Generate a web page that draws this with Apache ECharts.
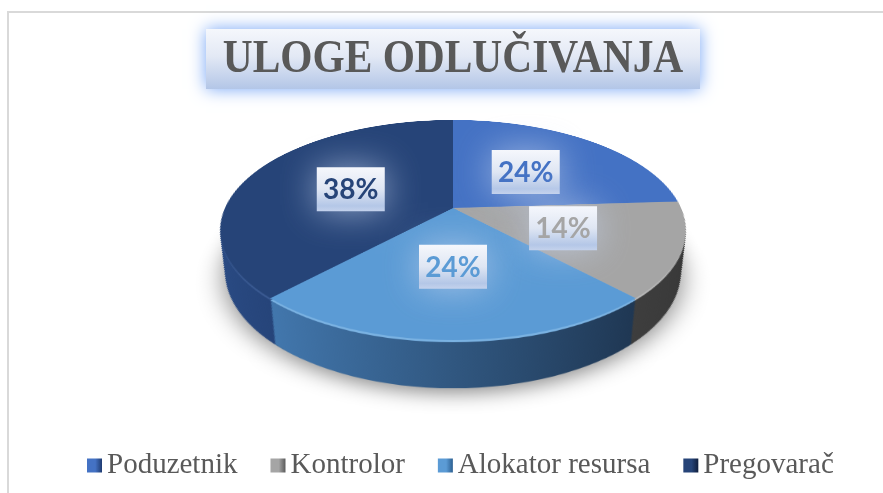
<!DOCTYPE html>
<html>
<head>
<meta charset="utf-8">
<title>ULOGE ODLUČIVANJA</title>
<script src="https://cdn.jsdelivr.net/npm/echarts@6/dist/echarts.min.js"></script>
<style>
  html, body { margin: 0; padding: 0; background: #ffffff; }
  #stage {
    position: relative; width: 883px; height: 493px; overflow: hidden; background: #ffffff;
    perspective: 1010px; perspective-origin: 453px 208px;
  }
  #bg, #fg { position: absolute; left: 0; top: 0; width: 883px; height: 493px; }
  #bg { z-index: 0; }
  #pie {
    position: absolute; left: 0; top: -142px; width: 883px; height: 700px; z-index: 1;
    transform-origin: 453px 350px; transform: rotateX(62.4deg);
  }
  #fg { z-index: 2; pointer-events: none; }
</style>
</head>
<body>
<div id="stage">
  <div id="bg"></div>
  <div id="pie"></div>
  <div id="fg"></div>
</div>
<script>
// ---- data ----
const categories = ['Poduzetnik', 'Kontrolor', 'Alokator resursa', 'Pregovarač'];
const shares = [24, 14, 24, 38];
const titleText = 'ULOGE ODLUČIVANJA';

// ---- colours ----
const topColors = ['#4472c4', '#a5a5a5', '#5b9bd5', '#264478'];
const rimColors = ['#5f8ad3', '#b9b9b9', '#7ab2e2', '#3a5a92'];
const sideStops = [
  ['#33599c', '#2a4a86'],
  ['#4a4a4a', '#383838'],
  ['#4277ad', '#1f3753'],
  ['#2a4b84', '#1d3563']
];
const legendDark = ['#1f3b70', '#5a5a5a', '#2c5f91', '#101f3d'];

// ---- disc geometry (the pie is drawn flat, then tilted with CSS perspective) ----
const R = 228;                       // disc radius in the flat canvas
const THETA = 62.4 * Math.PI / 180;  // tilt
const PERSP = 1010;                  // CSS perspective distance
const DEPTH = 48;                    // cylinder thickness
const PIE_CX = 453, PIE_CY = 350;    // disc centre inside the tilted canvas
const PAGE_CY = 208;                 // disc centre on the page

function linear(a, b) {
  return { type: 'linear', x: 0, y: 0, x2: 1, y2: 0, colorStops: [{ offset: 0, color: a }, { offset: 1, color: b }] };
}

function pieLayer(center, radius, colorFn, extraStyle) {
  return {
    type: 'pie', silent: true, animation: false,
    startAngle: 90, clockwise: true,
    center: center, radius: radius,
    label: { show: false }, labelLine: { show: false },
    itemStyle: Object.assign({ borderWidth: 0 }, extraStyle || {}),
    data: categories.map((c, i) => ({ name: c, value: shares[i], itemStyle: { color: colorFn(i) } }))
  };
}

// in-plane shift and radius that place a copy of the disc at depth h
function layerAt(h) {
  const realScale = PERSP / (PERSP + h * Math.cos(THETA));
  const sy = h * Math.sin(THETA) * realScale;
  const delta = sy * PERSP / (PERSP * Math.cos(THETA) + sy * Math.sin(THETA));
  const planeScale = PERSP / (PERSP - delta * Math.sin(THETA));
  return { delta: delta, r: R * realScale / planeScale };
}

// side wall: stacked copies of the pie
const series = [];
const N = 56;
for (let k = N; k >= 1; k--) {
  const L = layerAt(DEPTH * k / N);
  const extra = k === N ? { shadowBlur: 22, shadowColor: 'rgba(0,0,0,0.45)', shadowOffsetY: 6 } : null;
  series.push(pieLayer([PIE_CX, PIE_CY + L.delta], L.r, i => linear(sideStops[i][0], sideStops[i][1]), extra));
}
// bevel highlight along the rim
const bevel = layerAt(2.2);
series.push(pieLayer([PIE_CX, PIE_CY + bevel.delta], bevel.r, i => rimColors[i]));
// top face
const topIndex = series.length;
series.push(pieLayer([PIE_CX, PIE_CY], R, i => topColors[i]));

const pieChart = echarts.init(document.getElementById('pie'), null, { renderer: 'canvas' });
pieChart.setOption({ animation: false, backgroundColor: 'transparent', series: series });

// ---- frame, title ----
const bgChart = echarts.init(document.getElementById('bg'));
bgChart.setOption({
  animation: false,
  backgroundColor: '#ffffff',
  graphic: [
    { type: 'rect', shape: { x: 8, y: 12, width: 900, height: 520 },
      style: { fill: 'none', stroke: '#d9d9d9', lineWidth: 2 } },
    { type: 'rect', shape: { x: 206, y: 29, width: 494, height: 60 },
      style: {
        fill: { type: 'linear', x: 0, y: 0, x2: 0, y2: 1, colorStops: [
          { offset: 0, color: '#f5f7fc' }, { offset: 0.45, color: '#e3e9f5' }, { offset: 1, color: '#b3c6e7' }] },
        shadowBlur: 16, shadowColor: 'rgba(110,160,245,0.95)'
      } },
    { type: 'text', x: 453, y: 60, scaleX: 0.9,
      style: { text: titleText, fill: '#595959', font: 'bold 46px "Liberation Serif", "Times New Roman", serif',
        align: 'center', verticalAlign: 'middle' } }
  ]
});

// ---- labels and legend ----
const fgChart = echarts.init(document.getElementById('fg'));

function project(px, py) {
  const y3 = py * Math.cos(THETA), z3 = py * Math.sin(THETA);
  const f = PERSP / (PERSP - z3);
  return [PIE_CX + px * f, PAGE_CY + y3 * f];
}

let layouts = null;
try {
  const d = pieChart.getModel().getSeriesByIndex(topIndex).getData();
  layouts = categories.map((_, i) => d.getItemLayout(i));
} catch (e) { layouts = null; }
const total = shares.reduce((a, b) => a + b, 0);
if (!layouts || !layouts[0]) {
  let a = -Math.PI / 2;
  layouts = shares.map(v => {
    const s = a; a += v / total * Math.PI * 2;
    return { startAngle: s, endAngle: a, r: R, r0: 0 };
  });
}

const labelGraphics = layouts.map((lay, i) => {
  const mid = (lay.startAngle + lay.endAngle) / 2;
  const rho = ((lay.r || R) + (lay.r0 || 0)) / 2;
  const p = project(rho * Math.cos(mid), rho * Math.sin(mid));
  return {
    type: 'group', x: p[0], y: p[1],
    children: [
      { type: 'rect', shape: { x: -34, y: -22, width: 68, height: 44 },
        style: {
          fill: { type: 'linear', x: 0, y: 0, x2: 0, y2: 1, colorStops: [
            { offset: 0, color: '#f5f7fc' }, { offset: 0.5, color: '#dfe6f3' },
            { offset: 0.88, color: '#b4c7e7' }, { offset: 1, color: '#c4d2ec' }] },
          shadowBlur: 36, shadowColor: 'rgba(200,214,240,0.65)'
        } },
      { type: 'text', x: 0, y: 1,
        style: { text: Math.round(shares[i] / total * 100) + '%', fill: topColors[i],
          font: 'bold 28px Lato, "Open Sans", sans-serif', align: 'center', verticalAlign: 'middle' } }
    ]
  };
});

fgChart.setOption({
  animation: false,
  backgroundColor: 'transparent',
  legend: {
    left: 82, top: 446,
    itemWidth: 15, itemHeight: 14, itemGap: 33,
    icon: 'rect',
    textStyle: { fontFamily: '"Liberation Serif", "Times New Roman", serif', fontSize: 29, color: '#595959', padding: [2, 0, 0, 0] },
    data: categories.map((c, i) => ({
      name: c,
      itemStyle: { color: { type: 'linear', x: 0, y: 0, x2: 1, y2: 0, colorStops: [
        { offset: 0, color: topColors[i] }, { offset: 0.55, color: topColors[i] }, { offset: 1, color: legendDark[i] }] } }
    }))
  },
  series: [{
    type: 'pie', radius: 0, silent: true, animation: false,
    label: { show: false }, labelLine: { show: false },
    data: categories.map((c, i) => ({ name: c, value: shares[i], itemStyle: { color: topColors[i] } }))
  }],
  graphic: labelGraphics
});
</script>
</body>
</html>
